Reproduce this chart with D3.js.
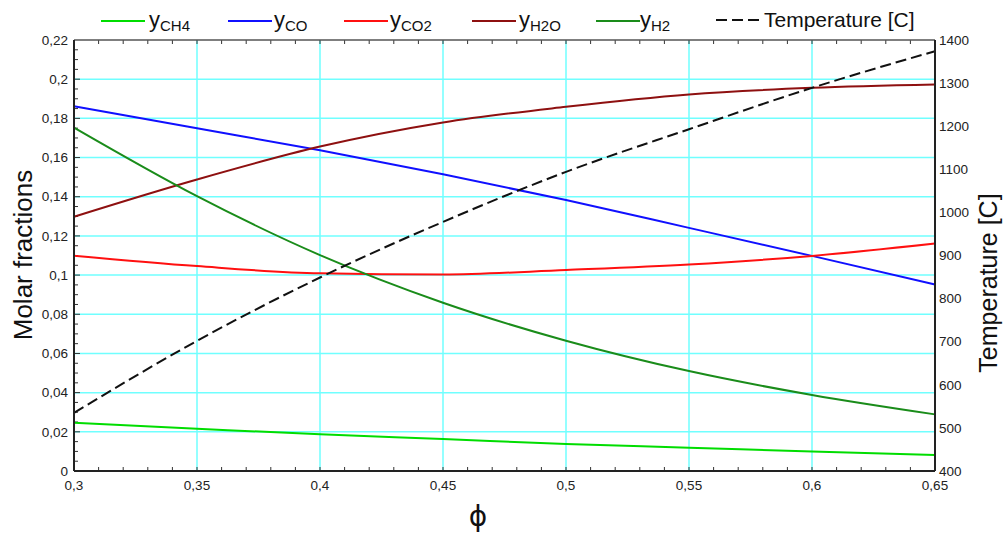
<!DOCTYPE html>
<html><head><meta charset="utf-8">
<script src="https://cdn.jsdelivr.net/npm/d3@7"></script>
<style>
body{margin:0;background:#fff;}
svg{display:block;font-family:"Liberation Sans",Arial,sans-serif;}
</style></head>
<body><svg id="c" width="1005" height="535"></svg>
<script>
const phi = [0.3,0.35,0.4,0.45,0.5,0.55,0.6,0.65];
const yCH4 = [0.0246,0.0216,0.0187,0.0163,0.0138,0.0119,0.0099,0.0082];
const yCO  = [0.1862,0.1749,0.1637,0.1515,0.1383,0.1241,0.1098,0.0952];
const yCO2 = [0.1099,0.1046,0.1009,0.1003,0.1026,0.1054,0.1098,0.1161];
const yH2O = [0.1298,0.1488,0.1656,0.1779,0.1859,0.1922,0.1956,0.1973];
const yH2  = [0.1753,0.1403,0.1102,0.0859,0.0665,0.0510,0.0388,0.0289];
const temperature = [535,702,849,978,1094,1193,1289,1374];
const xTicks = [0.3,0.35,0.4,0.45,0.5,0.55,0.6,0.65];
const yTicks = [0,0.02,0.04,0.06,0.08,0.1,0.12,0.14,0.16,0.18,0.2,0.22];
const tTicks = [400,500,600,700,800,900,1000,1100,1200,1300,1400];

const series = [
  {sub:"CH4", values:yCH4, color:"#00dd00", lx:101, tx:149},
  {sub:"CO",  values:yCO,  color:"#1010ff", lx:228, tx:274},
  {sub:"CO2", values:yCO2, color:"#ff1010", lx:344, tx:390},
  {sub:"H2O", values:yH2O, color:"#8e1010", lx:472, tx:519},
  {sub:"H2",  values:yH2,  color:"#1a8c1a", lx:596, tx:640}
];

const L=74, R=935, T=40, B=471;
const svg = d3.select("#c");
const x = d3.scaleLinear().domain([0.3,0.65]).range([L,R]);
const y = d3.scaleLinear().domain([0,0.22]).range([B,T]);
const yt = d3.scaleLinear().domain([400,1400]).range([B,T]);
const fmt = v => String(+v.toFixed(3)).replace(".", ",");

// grid
const g = svg.append("g");
g.selectAll(".hg").data(yTicks.filter(v=>v>0&&v<0.22)).join("line")
  .attr("x1",L).attr("x2",R).attr("y1",d=>y(d)).attr("y2",d=>y(d))
  .attr("stroke","#70ffff").attr("stroke-width",1.5);
g.selectAll(".vg").data(xTicks.filter(v=>v>0.3&&v<0.65)).join("line")
  .attr("y1",T).attr("y2",B).attr("x1",d=>x(d)).attr("x2",d=>x(d))
  .attr("stroke","#70ffff").attr("stroke-width",1.5);

// minor ticks
const xm = d3.range(31,65).map(i=>i/100);
svg.append("g").selectAll("line").data(xm).join("line")
  .attr("x1",d=>x(d)).attr("x2",d=>x(d)).attr("y1",B).attr("y2",B-4)
  .attr("stroke","#333").attr("stroke-width",1);
svg.append("g").selectAll("line").data(xm).join("line")
  .attr("x1",d=>x(d)).attr("x2",d=>x(d)).attr("y1",T).attr("y2",T+4)
  .attr("stroke","#333").attr("stroke-width",1);
const ym = d3.range(1,44).map(i=>i*0.005);
svg.append("g").selectAll("line").data(ym).join("line")
  .attr("x1",L).attr("x2",d=> (Math.round(d*1000)%20===0)?L+6:L+4).attr("y1",d=>y(d)).attr("y2",d=>y(d))
  .attr("stroke","#333").attr("stroke-width",1);

// lines
const line = d3.line().x((d,i)=>x(phi[i])).y(d=>y(d)).curve(d3.curveMonotoneX);
series.forEach(s=>{
  svg.append("path").attr("d",line(s.values)).attr("fill","none")
    .attr("stroke",s.color).attr("stroke-width",2);
});
const tline = d3.line().x((d,i)=>x(phi[i])).y(d=>yt(d)).curve(d3.curveMonotoneX);
svg.append("path").attr("d",tline(temperature)).attr("fill","none")
  .attr("stroke","#111").attr("stroke-width",2).attr("stroke-dasharray","11,5");

// frame
svg.append("line").attr("x1",L).attr("x2",R).attr("y1",T).attr("y2",T).attr("stroke","#555").attr("stroke-width",1.5);
svg.append("line").attr("x1",L).attr("x2",R).attr("y1",B).attr("y2",B).attr("stroke","#222").attr("stroke-width",2);
svg.append("line").attr("x1",L).attr("x2",L).attr("y1",T).attr("y2",B).attr("stroke","#222").attr("stroke-width",2);
svg.append("line").attr("x1",R).attr("x2",R).attr("y1",T).attr("y2",B).attr("stroke","#222").attr("stroke-width",2);

// tick labels
svg.append("g").selectAll("text").data(yTicks).join("text")
  .attr("x",L-6).attr("y",d=>y(d)).attr("dy","0.35em").attr("text-anchor","end")
  .attr("font-size",13.5).attr("fill","#222").text(fmt);
svg.append("g").selectAll("text").data(xTicks).join("text")
  .attr("x",d=>x(d)).attr("y",B+19).attr("text-anchor","middle")
  .attr("font-size",13.5).attr("fill","#222").text(fmt);
svg.append("g").selectAll("text").data(tTicks).join("text")
  .attr("x",R+4).attr("y",d=>yt(d)).attr("dy","0.35em").attr("text-anchor","start")
  .attr("font-size",13.5).attr("fill","#222").text(d=>d);

// axis titles
svg.append("text").attr("transform","translate(32,255) rotate(-90)").attr("text-anchor","middle")
  .attr("font-size",26).attr("fill","#111").text("Molar fractions");
svg.append("text").attr("transform","translate(997,283) rotate(-90)").attr("text-anchor","middle")
  .attr("font-size",25).attr("fill","#111").text("Temperature [C]");
svg.append("text").attr("x",478).attr("y",526).attr("text-anchor","middle")
  .attr("font-size",28).attr("font-family","DejaVu Sans, sans-serif").attr("fill","#111").text("ϕ");

// legend
const lg = svg.append("g");
series.forEach(s=>{
  lg.append("line").attr("x1",s.lx).attr("x2",s.lx+44).attr("y1",21).attr("y2",21)
    .attr("stroke",s.color).attr("stroke-width",2);
  const t = lg.append("text").attr("x",s.tx).attr("y",27).attr("font-size",22).attr("fill","#111").text("y");
  t.append("tspan").attr("font-size",15).attr("dy",4).text(s.sub);
});
lg.append("line").attr("x1",716).attr("x2",762).attr("y1",20).attr("y2",20)
  .attr("stroke","#111").attr("stroke-width",2).attr("stroke-dasharray","11,5");
lg.append("text").attr("x",764).attr("y",27).attr("font-size",21).attr("fill","#111").text("Temperature [C]");
</script></body></html>
